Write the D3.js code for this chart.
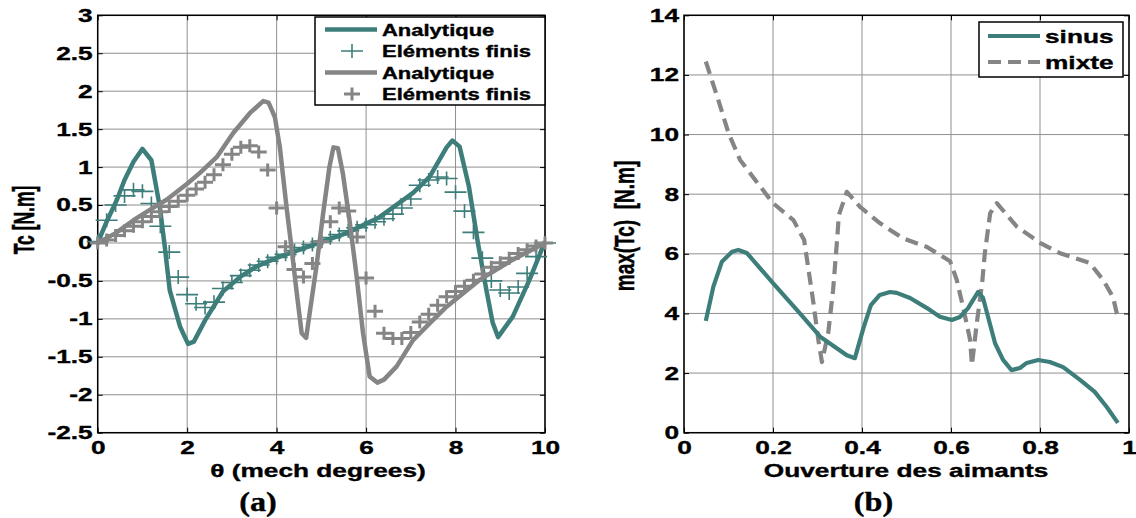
<!DOCTYPE html>
<html>
<head>
<meta charset="utf-8">
<script src="https://cdn.jsdelivr.net/npm/d3@7"></script>
<style>
  body { margin: 0; background: #fff; }
  svg { display: block; }
  text { font-family: "Liberation Sans", Arial, sans-serif; font-weight: bold; fill: #000;
         stroke: #000; stroke-width: 0.35px; }
  .serif { font-family: "Liberation Serif", "Times New Roman", serif; }
</style>
</head>
<body>
<svg id="fig" width="1136" height="518"></svg>
<script>
// ---------- (a) cogging torque vs rotor angle ----------
// [theta (mech degrees), Tc (N.m)]
const sinusAnalytic = [
  [0,0],[0.2,0.28],[0.43,0.57],[0.6,0.83],[0.8,1.07],[1.0,1.24],[1.2,1.09],[1.39,0.47],
  [1.5,-0.05],[1.61,-0.62],[1.84,-1.1],[2.02,-1.33],[2.15,-1.3],[2.4,-1.02],[2.8,-0.64],
  [3.2,-0.44],[3.55,-0.31],[4.07,-0.18],[4.8,-0.03],[5.56,0.13],[6.3,0.34],[7.05,0.66],
  [7.42,0.87],[7.8,1.26],[7.93,1.35],[8.09,1.27],[8.3,0.74],[8.5,0.0],[8.69,-0.62],
  [8.83,-1.05],[8.95,-1.24],[9.28,-0.97],[9.65,-0.49],[10,0.02]
];
const sinusFE = [
  [0,0.02],[0.2,0.3],[0.4,0.5],[0.6,0.62],[0.8,0.7],[1.0,0.68],[1.2,0.52],[1.4,0.22],
  [1.6,-0.12],[1.8,-0.45],[2.0,-0.68],[2.2,-0.8],[2.4,-0.85],[2.6,-0.78],[2.8,-0.6],
  [3.0,-0.52],[3.2,-0.43],[3.4,-0.36],[3.6,-0.29],[3.8,-0.24],[4.0,-0.19],[4.2,-0.15],
  [4.4,-0.1],[4.6,-0.06],[4.8,-0.02],[5.0,0.02],[5.2,0.07],[5.4,0.11],[5.6,0.16],
  [5.8,0.2],[6.0,0.24],[6.2,0.28],[6.4,0.32],[6.6,0.38],[6.8,0.46],[7.0,0.58],[7.2,0.76],
  [7.4,0.83],[7.6,0.87],[7.8,0.85],[8.0,0.67],[8.2,0.42],[8.4,0.14],[8.6,-0.2],[8.8,-0.5],
  [9.0,-0.62],[9.2,-0.66],[9.4,-0.58],[9.6,-0.4],[9.8,-0.18],[10,0.0]
];
const mixteAnalytic = [
  [0,0],[0.4,0.13],[0.8,0.3],[1.2,0.45],[1.54,0.57],[2.0,0.78],[2.28,0.92],[2.66,1.13],
  [3.03,1.45],[3.4,1.71],[3.7,1.87],[3.82,1.85],[3.96,1.66],[4.07,1.27],[4.22,0.48],
  [4.33,-0.05],[4.45,-0.66],[4.56,-1.19],[4.66,-1.25],[4.74,-0.92],[4.89,-0.31],[5.04,0.39],
  [5.18,1.0],[5.27,1.26],[5.37,1.25],[5.48,0.92],[5.63,0.3],[5.78,-0.4],[5.93,-1.18],
  [6.08,-1.76],[6.25,-1.84],[6.4,-1.8],[6.68,-1.63],[7.05,-1.28],[7.42,-1.06],[7.8,-0.84],
  [8.53,-0.49],[9.28,-0.22],[10,0.0]
];
const mixteFE = [
  [0,0.0],[0.2,0.04],[0.4,0.1],[0.6,0.16],[0.8,0.22],[1.0,0.28],[1.2,0.35],[1.4,0.41],
  [1.6,0.48],[1.8,0.55],[2.0,0.63],[2.2,0.71],[2.4,0.8],[2.6,0.9],[2.8,1.03],[3.0,1.17],
  [3.2,1.26],[3.4,1.28],[3.6,1.2],[3.8,0.96],[4.0,0.46],[4.2,-0.05],[4.4,-0.35],[4.6,-0.45],
  [4.8,-0.27],[5.0,0.02],[5.2,0.28],[5.4,0.46],[5.6,0.42],[5.8,0.08],[6.0,-0.46],[6.2,-0.9],
  [6.4,-1.19],[6.6,-1.26],[6.8,-1.26],[7.0,-1.18],[7.2,-1.04],[7.4,-0.94],[7.6,-0.82],
  [7.8,-0.71],[8.0,-0.64],[8.2,-0.57],[8.4,-0.49],[8.6,-0.41],[8.8,-0.32],[9.0,-0.26],
  [9.2,-0.2],[9.4,-0.14],[9.6,-0.09],[9.8,-0.04],[10,0.0]
];
const thetaTicks = [0, 2, 4, 6, 8, 10];
const torqueTicks = [-2.5, -2, -1.5, -1, -0.5, 0, 0.5, 1, 1.5, 2, 2.5, 3];
const legendA = ["Analytique", "Eléments finis", "Analytique", "Eléments finis"];

// ---------- (b) peak cogging torque vs magnet opening ----------
// [magnet opening ratio, max(Tc) (N.m)]
const sinusMax = [
  [0.049,3.75],[0.066,4.9],[0.085,5.73],[0.108,6.07],[0.122,6.13],[0.141,6.03],[0.2,5.02],
  [0.26,4.01],[0.306,3.22],[0.366,2.6],[0.384,2.5],[0.403,3.5],[0.42,4.28],[0.44,4.62],
  [0.463,4.72],[0.478,4.69],[0.508,4.52],[0.546,4.18],[0.575,3.89],[0.602,3.78],[0.62,3.88],
  [0.638,4.17],[0.661,4.72],[0.672,4.52],[0.699,3.0],[0.717,2.44],[0.736,2.1],[0.755,2.17],
  [0.77,2.34],[0.796,2.44],[0.822,2.37],[0.852,2.2],[0.89,1.77],[0.923,1.37],[0.95,0.86],
  [0.975,0.33]
];
const mixteMax = [
  [0.049,12.45],[0.077,11.16],[0.1,10.05],[0.126,9.15],[0.163,8.42],[0.2,7.7],[0.246,7.13],
  [0.27,6.46],[0.29,4.44],[0.302,3.1],[0.31,2.37],[0.324,3.34],[0.335,4.78],[0.344,6.46],
  [0.348,7.3],[0.366,8.08],[0.395,7.58],[0.44,7.03],[0.492,6.52],[0.546,6.23],[0.598,5.75],
  [0.613,5.12],[0.627,4.22],[0.643,3.11],[0.647,2.27],[0.658,3.68],[0.67,5.02],[0.676,6.02],
  [0.688,7.36],[0.703,7.7],[0.748,6.91],[0.8,6.37],[0.845,6.02],[0.912,5.69],[0.942,5.12],
  [0.964,4.55],[0.975,3.85]
];
const openingTicks = [0, 0.2, 0.4, 0.6, 0.8, 1];
const maxTicks = [0, 2, 4, 6, 8, 10, 12, 14];
const legendB = ["sinus", "mixte"];

// ---------- styling ----------
const TEAL = "#3d7e7a";
const GREY = "#858585";
const GRID = "#8f8f8f";
const SX = 1.45;            // horizontal widening applied to all lettering

const svg = d3.select("#fig");

// widen a text element horizontally around its own anchor point
function widen(sel, sx) {
  sel.each(function () {
    const t = d3.select(this);
    const x = +t.attr("x") || 0, y = +t.attr("y") || 0;
    t.attr("x", 0).attr("y", 0)
     .attr("transform", `translate(${x},${y}) scale(${sx},1)`);
  });
}

function panel(opts) {
  const { left, top, width, height, xDomain, yDomain, xTicks, yTicks, xFmt, yFmt } = opts;
  const g = svg.append("g").attr("transform", `translate(${left},${top})`);
  const x = d3.scaleLinear().domain(xDomain).range([0, width]);
  const y = d3.scaleLinear().domain(yDomain).range([height, 0]);

  // grid
  g.append("g").selectAll("line").data(xTicks).join("line")
    .attr("x1", d => x(d)).attr("x2", d => x(d)).attr("y1", 0).attr("y2", height)
    .attr("stroke", GRID).attr("stroke-width", 1);
  g.append("g").selectAll("line").data(yTicks).join("line")
    .attr("y1", d => y(d)).attr("y2", d => y(d)).attr("x1", 0).attr("x2", width)
    .attr("stroke", GRID).attr("stroke-width", 1);

  // axes with inward ticks
  const ax = g.append("g").attr("transform", `translate(0,${height})`)
    .call(d3.axisBottom(x).tickValues(xTicks).tickFormat(xFmt).tickSize(-5).tickPadding(8.5));
  const ay = g.append("g")
    .call(d3.axisLeft(y).tickValues(yTicks).tickFormat(yFmt).tickSize(-5).tickPadding(5));
  g.append("g").call(d3.axisTop(x).tickValues(xTicks).tickFormat("").tickSize(-5));
  g.append("g").attr("transform", `translate(${width},0)`)
    .call(d3.axisRight(y).tickValues(yTicks).tickFormat("").tickSize(-5));
  g.selectAll(".domain").remove();
  g.selectAll(".tick line").attr("stroke", "#000").attr("stroke-width", 1);
  [ax, ay].forEach(a => a.selectAll("text")
    .attr("font-size", 18.5).attr("font-family", null).attr("fill", "#000"));
  widen(ax.selectAll("text"), 1.42);
  widen(ay.selectAll("text"), 1.42);

  const frame = g.append("rect").attr("width", width).attr("height", height)
    .attr("fill", "none").attr("stroke", "#000").attr("stroke-width", 1.5);

  return { g, x, y, frame };
}

// ===== panel (a) =====
const A = panel({
  left: 97.7, top: 15.3, width: 447.3, height: 417.4,
  xDomain: [0, 10], yDomain: [-2.5, 3],
  xTicks: thetaTicks, yTicks: torqueTicks,
  xFmt: d3.format("d"), yFmt: d => String(d)
});
const lineA = d3.line().x(d => A.x(d[0])).y(d => A.y(d[1]));
const marksA = A.g.append("g");

function plusMarks(data, color, hw, hh, sw) {
  marksA.append("g").selectAll("path").data(data).join("path")
    .attr("d", d => {
      const px = A.x(d[0]), py = A.y(d[1]);
      return `M${px - hw},${py}H${px + hw}M${px},${py - hh}V${py + hh}`;
    })
    .attr("stroke", color).attr("stroke-width", sw).attr("fill", "none");
}

marksA.append("path").datum(sinusAnalytic).attr("d", lineA)
  .attr("fill", "none").attr("stroke", TEAL).attr("stroke-width", 4.5).attr("stroke-linejoin", "round");
plusMarks(sinusFE, TEAL, 11, 7, 1.6);
marksA.append("path").datum(mixteAnalytic).attr("d", lineA)
  .attr("fill", "none").attr("stroke", GREY).attr("stroke-width", 4.5).attr("stroke-linejoin", "round");
plusMarks(mixteFE, GREY, 8, 6.5, 3);

// legend (a)
{
  const lg = svg.append("g");
  lg.append("rect").attr("x", 315).attr("y", 17).attr("width", 230).attr("height", 88)
    .attr("fill", "#fff").attr("stroke", "#000").attr("stroke-width", 1.5);
  const rows = [35.5, 57, 78.5, 100];
  const colors = [TEAL, TEAL, GREY, GREY];
  legendA.forEach((label, i) => {
    const cy = rows[i] - 6;
    if (i % 2 === 0) {
      lg.append("line").attr("x1", 325).attr("x2", 377).attr("y1", cy).attr("y2", cy)
        .attr("stroke", colors[i]).attr("stroke-width", 4.5);
    } else if (i === 1) {
      lg.append("path").attr("d", `M341,${cy}H363M352,${cy - 7}V${cy + 7}`)
        .attr("stroke", TEAL).attr("stroke-width", 1.6).attr("fill", "none");
    } else {
      lg.append("path").attr("d", `M344,${cy}H360M352,${cy - 6.5}V${cy + 6.5}`)
        .attr("stroke", GREY).attr("stroke-width", 3).attr("fill", "none");
    }
    lg.append("text").attr("x", 382).attr("y", rows[i]).attr("font-size", 15.6).text(label);
  });
  widen(lg.selectAll("text"), 1.41);
}

// axis titles (a)
{
  const t = svg.append("text").attr("x", 318).attr("y", 477).attr("font-size", 18.5)
    .attr("text-anchor", "middle").text("θ (mech degrees)");
  widen(t, 1.42);
  svg.append("text").attr("transform", "translate(34,220) scale(1.65,1) rotate(-90)")
    .attr("font-size", 17.5).attr("text-anchor", "middle").text("Tc [N.m]");
  const p = svg.append("text").attr("class", "serif").attr("x", 258).attr("y", 511)
    .attr("font-size", 28).attr("text-anchor", "middle").text("(a)");
  widen(p, 1.15);
}

// ===== panel (b) =====
const B = panel({
  left: 684, top: 15.3, width: 445, height: 417.4,
  xDomain: [0, 1], yDomain: [0, 14],
  xTicks: openingTicks, yTicks: maxTicks,
  xFmt: d => String(d), yFmt: d3.format("d")
});
const lineB = d3.line().x(d => B.x(d[0])).y(d => B.y(d[1]));
B.g.append("path").datum(mixteMax).attr("d", lineB)
  .attr("fill", "none").attr("stroke", GREY).attr("stroke-width", 4.2)
  .attr("stroke-dasharray", "13,7").attr("stroke-linejoin", "round");
B.g.append("path").datum(sinusMax).attr("d", lineB)
  .attr("fill", "none").attr("stroke", TEAL).attr("stroke-width", 4.2).attr("stroke-linejoin", "round");

// legend (b)
{
  const lg = svg.append("g");
  lg.append("rect").attr("x", 979).attr("y", 22).attr("width", 144).attr("height", 55)
    .attr("fill", "#fff").attr("stroke", "#000").attr("stroke-width", 1.5);
  lg.append("line").attr("x1", 988).attr("x2", 1040).attr("y1", 36).attr("y2", 36)
    .attr("stroke", TEAL).attr("stroke-width", 4);
  lg.append("line").attr("x1", 988).attr("x2", 1040).attr("y1", 62).attr("y2", 62)
    .attr("stroke", GREY).attr("stroke-width", 4).attr("stroke-dasharray", "13,7");
  lg.append("text").attr("x", 1045).attr("y", 43).attr("font-size", 18.5).text(legendB[0]);
  lg.append("text").attr("x", 1045).attr("y", 69).attr("font-size", 18.5).text(legendB[1]);
  widen(lg.selectAll("text"), 1.42);
}

// axis titles (b)
{
  const t = svg.append("text").attr("x", 906).attr("y", 477).attr("font-size", 18.5)
    .attr("text-anchor", "middle").text("Ouverture des aimants");
  widen(t, 1.42);
  svg.append("text").attr("transform", "translate(634,226) scale(1.45,1) rotate(-90)")
    .attr("font-size", 19).attr("text-anchor", "middle")
    .style("white-space", "pre").text("max(Tc)  [N.m]");
  const p = svg.append("text").attr("class", "serif").attr("x", 873.5).attr("y", 511)
    .attr("font-size", 28).attr("text-anchor", "middle").text("(b)");
  widen(p, 1.15);
}
</script>
</body>
</html>
